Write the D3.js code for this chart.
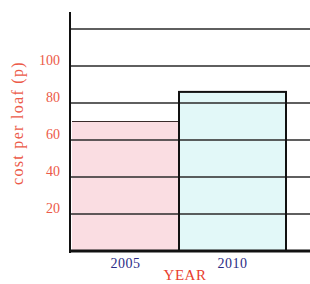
<!DOCTYPE html>
<html><head><meta charset="utf-8">
<script src="https://cdn.jsdelivr.net/npm/d3@7"></script>
<style>html,body{margin:0;padding:0;background:#fff;}svg{display:block;}</style>
</head><body>
<script>
const years = ["2005", "2010"];
const cost = [70, 86];
const barFills = ["#fadde2", "#e2f8f8"];
const yTicks = [20, 40, 60, 80, 100];
const gridValues = [20, 40, 60, 80, 100, 120];

const W = 310, H = 284;
const svg = d3.select("body").append("svg").attr("width", W).attr("height", H);

const x = d3.scaleBand().domain(years).range([72, 286]).paddingInner(0).paddingOuter(0);
const y = d3.scaleLinear().domain([0, 120]).range([251, 29]);

// bars
svg.selectAll("rect.bar").data(years).join("rect")
  .attr("class", "bar")
  .attr("x", d => x(d))
  .attr("y", (d, i) => y(cost[i]))
  .attr("width", x.bandwidth())
  .attr("height", (d, i) => y(0) - y(cost[i]))
  .attr("fill", (d, i) => barFills[i]);

// 2005 bar top edge
svg.append("line")
  .attr("x1", x("2005")).attr("x2", x("2005") + x.bandwidth())
  .attr("y1", y(cost[0])).attr("y2", y(cost[0]))
  .attr("stroke", "#3a2a2a").attr("stroke-width", 1.2);

// grid lines
svg.selectAll("line.grid").data(gridValues).join("line")
  .attr("class", "grid")
  .attr("x1", 71).attr("x2", W)
  .attr("y1", d => y(d)).attr("y2", d => y(d))
  .attr("stroke", "#2a2a2a").attr("stroke-width", 1.5);

// 2010 bar outline on top
svg.append("rect")
  .attr("x", x("2010")).attr("y", y(cost[1]))
  .attr("width", x.bandwidth()).attr("height", y(0) - y(cost[1]))
  .attr("fill", "none").attr("stroke", "#111").attr("stroke-width", 2);

// y axis line
svg.append("line").attr("x1", 70).attr("x2", 70).attr("y1", 12).attr("y2", 253)
  .attr("stroke", "#111").attr("stroke-width", 2);
// baseline
svg.append("line").attr("x1", 69).attr("x2", W).attr("y1", y(0)).attr("y2", y(0))
  .attr("stroke", "#111").attr("stroke-width", 3);

// y tick labels
const yAxis = d3.axisLeft(y).tickValues(yTicks).tickSize(0).tickPadding(0);
const gy = svg.append("g").attr("transform", "translate(60,-6)").call(yAxis);
gy.select(".domain").remove();
gy.selectAll("text")
  .attr("fill", "#ec5a48")
  .attr("font-family", "'Liberation Serif', serif")
  .attr("font-size", 14);

// x labels
const xAxis = d3.axisBottom(x).tickSize(0).tickPadding(0);
const gx = svg.append("g").attr("transform", "translate(0,258)").call(xAxis);
gx.select(".domain").remove();
gx.selectAll("text")
  .attr("fill", "#2c2c86")
  .attr("font-family", "'Liberation Serif', serif")
  .attr("font-size", 14)
  .attr("letter-spacing", "0.5px")
  .attr("dy", "0.71em");

// axis titles
svg.append("text").attr("x", 185).attr("y", 280)
  .attr("text-anchor", "middle")
  .attr("fill", "#e8402e")
  .attr("font-family", "'Liberation Serif', serif")
  .attr("font-size", 15)
  .attr("letter-spacing", "0.5px")
  .text("YEAR");

svg.append("text")
  .attr("transform", "translate(23,123) rotate(-90)")
  .attr("text-anchor", "middle")
  .attr("fill", "#ec5a48")
  .attr("font-family", "'Liberation Serif', serif")
  .attr("font-size", 16)
  .attr("letter-spacing", "1.3px")
  .text("cost per loaf (p)");
</script>
</body></html>
